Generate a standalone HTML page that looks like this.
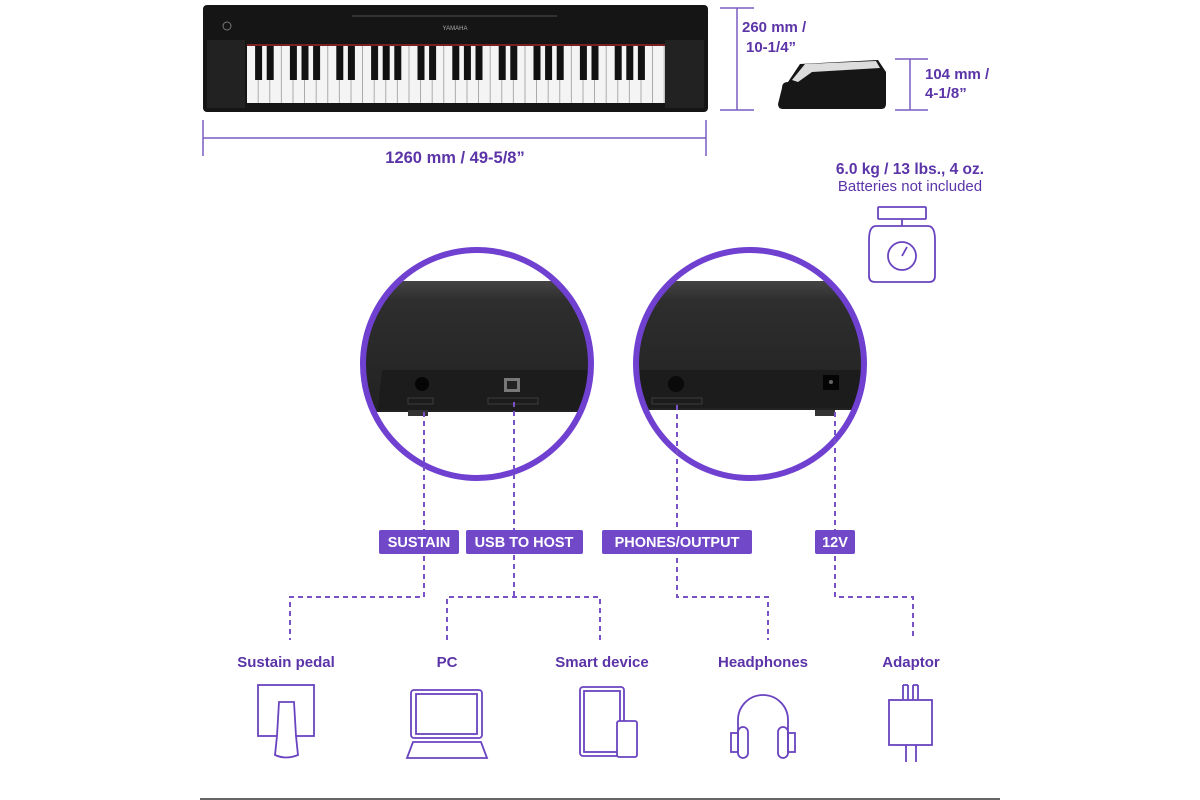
<!DOCTYPE html>
<html><head><meta charset="utf-8"><style>
html,body{margin:0;padding:0;background:#fff;}
body{width:1200px;height:800px;overflow:hidden;position:relative;font-family:"Liberation Sans",sans-serif;}
svg{position:absolute;left:0;top:0}
</style></head><body>
<svg width="1200" height="800" viewBox="0 0 1200 800" xmlns="http://www.w3.org/2000/svg">
<defs>
<pattern id="keys" x="247" y="0" width="11.6" height="800" patternUnits="userSpaceOnUse">
<rect x="0" y="0" width="11.6" height="800" fill="#f4f4f4"/>
<rect x="10.8" y="0" width="0.8" height="800" fill="#999"/>
</pattern>
<linearGradient id="body" x1="0" y1="0" x2="0" y2="1">
<stop offset="0" stop-color="#444"/><stop offset="0.15" stop-color="#2e2e2e"/><stop offset="1" stop-color="#222"/>
</linearGradient>
<clipPath id="c1"><circle cx="477" cy="364" r="114"/></clipPath>
<clipPath id="c2"><circle cx="750" cy="364" r="114"/></clipPath>
</defs>
<rect x="203" y="5" width="505" height="107" rx="4" fill="#151515"/>
<rect x="207" y="40" width="38" height="68" fill="#222"/>
<rect x="665" y="40" width="39" height="68" fill="#222"/>
<rect x="352" y="15" width="205" height="2" fill="#333"/>
<circle cx="227" cy="26" r="4" fill="none" stroke="#777" stroke-width="1"/>
<rect x="247" y="44" width="418" height="2" fill="#7a2020"/>
<rect x="247" y="46" width="418" height="57" fill="url(#keys)"/>
<g fill="#111" id="bk"></g>
<text x="455" y="30" font-size="6" fill="#aaa" text-anchor="middle">YAMAHA</text>
<g stroke="#7a5cc0" stroke-width="1.5" fill="none">
<line x1="737" y1="8" x2="737" y2="110"/><line x1="720" y1="8" x2="754" y2="8"/><line x1="720" y1="110" x2="754" y2="110"/>
<line x1="910" y1="59" x2="910" y2="110"/><line x1="895" y1="59" x2="928" y2="59"/><line x1="895" y1="110" x2="928" y2="110"/>
<line x1="203" y1="138" x2="706" y2="138"/><line x1="203" y1="120" x2="203" y2="156"/><line x1="706" y1="120" x2="706" y2="156"/>
</g>
<path d="M782 88 Q782 82 788 82 L800 64 L878 60 L886 72 L886 104 Q886 109 881 109 L783 109 Q778 109 778 104 Z" fill="#161616"/>
<path d="M792 80 L805 64 L876 61 L880 68 L812 72 L798 82Z" fill="#ddd"/>
<g font-weight="bold" font-size="15" fill="#5b34a8">
<text x="742" y="32">260 mm /</text><text x="746" y="52">10-1/4”</text>
<text x="925" y="79">104 mm /</text><text x="925" y="98">4-1/8”</text>
<text x="455" y="163" text-anchor="middle" font-size="16.5">1260 mm / 49-5/8”</text>
<text x="910" y="174" text-anchor="middle" font-size="15.5">6.0 kg / 13 lbs., 4 oz.</text>
</g>
<text x="910" y="191" text-anchor="middle" font-size="15" fill="#5b34a8">Batteries not included</text>
<g stroke="#6a44c0" stroke-width="1.8" fill="none">
<rect x="878" y="207" width="48" height="12" rx="1"/>
<line x1="902" y1="219" x2="902" y2="226"/>
<path d="M876 226 L928 226 Q935 226 935 240 L935 276 Q935 282 929 282 L875 282 Q869 282 869 276 L869 240 Q869 226 876 226Z"/>
<circle cx="902" cy="256" r="14"/><line x1="902" y1="256" x2="907" y2="247"/>
</g>
<g clip-path="url(#c1)">
<rect x="360" y="250" width="240" height="230" fill="#fff"/>
<path d="M360 281 L600 281 L600 412 L360 412Z" fill="url(#body)"/>
<path d="M382 370 L600 370 L600 410 L378 410Z" fill="#1c1c1c"/>
<circle cx="422" cy="384" r="7" fill="#050505"/>
<rect x="504" y="378" width="16" height="14" fill="#777"/><rect x="507" y="381" width="10" height="8" fill="#222"/>
<rect x="408" y="398" width="25" height="6" fill="none" stroke="#444" stroke-width=".8"/>
<rect x="488" y="398" width="50" height="6" fill="none" stroke="#444" stroke-width=".8"/>
<rect x="408" y="410" width="20" height="6" fill="#333"/>
</g>
<g clip-path="url(#c2)">
<rect x="630" y="250" width="240" height="230" fill="#fff"/>
<path d="M630 281 L870 281 L870 410 L630 410Z" fill="url(#body)"/>
<path d="M640 370 L870 370 L870 408 L640 408Z" fill="#1c1c1c"/>
<circle cx="676" cy="384" r="8" fill="#0a0a0a"/>
<rect x="823" y="375" width="16" height="15" fill="#050505"/><circle cx="831" cy="382" r="2" fill="#666"/>
<rect x="652" y="398" width="50" height="6" fill="none" stroke="#444" stroke-width=".8"/>
<rect x="815" y="410" width="20" height="6" fill="#333"/>
</g>
<circle cx="477" cy="364" r="114" fill="none" stroke="#7040d0" stroke-width="6"/>
<circle cx="750" cy="364" r="114" fill="none" stroke="#7040d0" stroke-width="6"/>
<g stroke="#7a52c8" stroke-width="2" stroke-dasharray="5,4" fill="none">
<path d="M424 412 V597 H290 V640"/>
<path d="M514 402 V597"/><path d="M447 640 V597 H600 V640"/>
<path d="M677 405 V597 H768 V640"/>
<path d="M835 412 V597 H913 V640"/>
</g>
<g fill="#7048c8">
<rect x="379" y="530" width="80" height="24" rx="2"/>
<rect x="466" y="530" width="117" height="24" rx="2"/>
<rect x="602" y="530" width="150" height="24" rx="2"/>
<rect x="815" y="530" width="40" height="24" rx="2"/>
</g>
<g fill="#fff" font-weight="bold" font-size="14.5" text-anchor="middle">
<text x="419" y="547">SUSTAIN</text><text x="524" y="547">USB TO HOST</text>
<text x="677" y="547">PHONES/OUTPUT</text><text x="835" y="547">12V</text>
</g>
<g fill="#5b34a8" font-weight="bold" font-size="15" text-anchor="middle">
<text x="286" y="667">Sustain pedal</text><text x="447" y="667">PC</text>
<text x="602" y="667">Smart device</text><text x="763" y="667">Headphones</text>
<text x="911" y="667">Adaptor</text>
</g>
<g stroke="#6a44c0" stroke-width="1.8" fill="none">
<rect x="258" y="685" width="56" height="51"/>
<path d="M277 736 L275 755 Q286 760 298 755 L296 736 L294 702 L279 702 Z" fill="#fff"/>
<rect x="411" y="690" width="71" height="48" rx="3"/><rect x="416" y="694" width="61" height="40"/>
<path d="M413 742 L481 742 L487 758 L407 758 Z"/>
<rect x="580" y="687" width="44" height="69" rx="3"/><rect x="584" y="691" width="36" height="61"/>
<rect x="617" y="721" width="20" height="36" rx="2" fill="#fff"/>
<path d="M738 740 V720 A25 25 0 0 1 788 720 V740"/>
<rect x="738" y="727" width="10" height="31" rx="5"/><rect x="778" y="727" width="10" height="31" rx="5"/>
<rect x="731" y="733" width="7" height="19"/><rect x="788" y="733" width="7" height="19"/>
<rect x="889" y="700" width="43" height="45"/>
<path d="M903 700 V685 M908 700 V685 M913 700 V685 M918 700 V685 M903 685 H908 M913 685 H918"/>
<path d="M906 745 V762 M916 745 V762"/>
</g>
<line x1="200" y1="799" x2="1000" y2="799" stroke="#666" stroke-width="2"/>
</svg>
<script>
(function(){var g=document.getElementById('bk');var w=11.6,x0=247,pat=[1,1,0,1,1,1,0];var s='';
for(var i=0;i<35;i++){if(pat[i%7]){var x=x0+(i+1)*w-3.5;if(x<660)s+='<rect x="'+x+'" y="46" width="7" height="34"/>';}}
g.innerHTML=s;})();
</script>
</body></html>
